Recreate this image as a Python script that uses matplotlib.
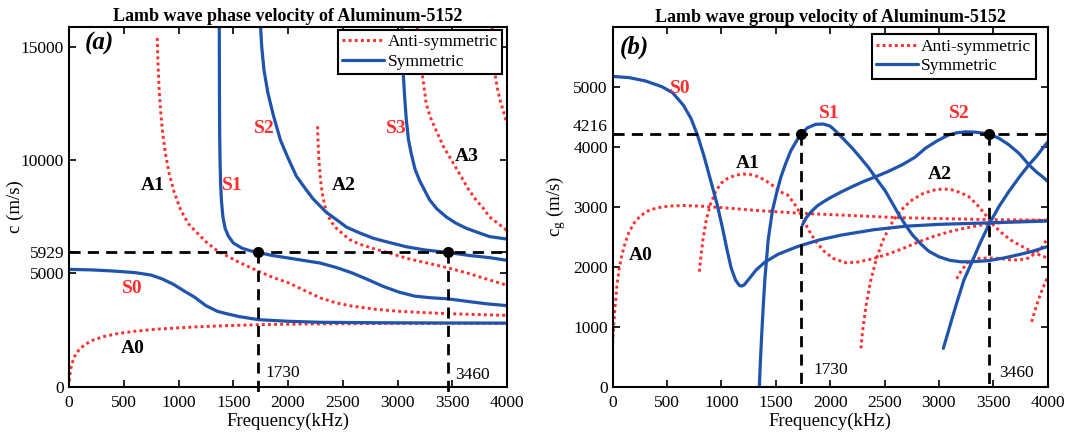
import matplotlib
matplotlib.use("Agg")
import matplotlib.pyplot as plt
from matplotlib.lines import Line2D
import matplotlib.transforms as mtransforms

plt.rcParams["font.family"] = ["Liberation Serif", "DejaVu Serif"]
plt.rcParams["mathtext.fontset"] = "custom"
plt.rcParams["mathtext.rm"] = "Liberation Serif"
plt.rcParams["mathtext.it"] = "Liberation Serif:italic"

# ---- phase velocity (panel a), frequency in kHz, velocity in m/s ----
pA0_f = [2, 10, 25, 50, 90, 140, 220, 320, 450, 600, 800, 1000, 1148, 1400, 1730, 2200, 2800, 3400, 4000]
pA0_c = [250, 650, 1000, 1330, 1620, 1850, 2060, 2220, 2350, 2450, 2540, 2600, 2640, 2690, 2739, 2770, 2790, 2798, 2800]

pS0_f = [0, 200, 400, 600, 750, 850, 950, 1050, 1148, 1250, 1354, 1434, 1550, 1730, 2000, 2295, 2800, 3300, 3816, 4000]
pS0_c = [5180, 5160, 5110, 5040, 4930, 4760, 4530, 4230, 3950, 3580, 3330, 3230, 3100, 2960, 2890, 2845, 2825, 2815, 2810, 2808]

pA1_f = [806, 812, 822, 836, 855, 880, 915, 960, 1020, 1090, 1148, 1250, 1354, 1434, 1550, 1730, 1850, 2008,
         2150, 2295, 2440, 2582, 2800, 3012, 3250, 3460, 3700, 4000]
pA1_c = [15400, 14300, 13200, 12200, 11200, 10300, 9400, 8600, 7800, 7200, 6900, 6400, 6000, 5800, 5500, 5100,
         4850, 4580, 4250, 3920, 3700, 3560, 3420, 3330, 3270, 3225, 3190, 3150]

pS1_f = [1372, 1373, 1374, 1376, 1379, 1384, 1392, 1405, 1425, 1455, 1500, 1578, 1650, 1730, 1850, 2008, 2150,
         2295, 2450, 2582, 2720, 2869, 3012, 3156, 3300, 3460, 3650, 3816, 4000]
pS1_c = [15900, 14000, 12500, 11000, 10000, 9000, 8200, 7500, 7000, 6650, 6350, 6120, 6010, 5929, 5800, 5680,
         5570, 5460, 5250, 5030, 4750, 4430, 4180, 4000, 3930, 3880, 3760, 3660, 3580]

pS2_f = [1749, 1760, 1780, 1815, 1865, 1930, 2000, 2076, 2150, 2228, 2350, 2450, 2533, 2650, 2776, 2900, 3080,
         3250, 3460, 3650, 3840, 4000]
pS2_c = [15900, 15000, 14000, 13000, 12000, 10900, 10100, 9300, 8800, 8300, 7700, 7350, 7050, 6800, 6560, 6400,
         6180, 6040, 5929, 5800, 5700, 5580]

pA2_f = [2270, 2274, 2282, 2295, 2312, 2335, 2365, 2400, 2441, 2500, 2563, 2650, 2780, 2926, 3100, 3300, 3460,
         3650, 3816, 4000]
pA2_c = [11500, 10800, 10000, 9200, 8550, 8000, 7550, 7250, 7000, 6750, 6500, 6300, 6100, 5900, 5650, 5430,
         5250, 5000, 4750, 4480]

pS3_f = [3040, 3045, 3050, 3065, 3080, 3100, 3125, 3160, 3202, 3250, 3293, 3360, 3445, 3530, 3627, 3740, 3840, 4000]
pS3_c = [15900, 15000, 14000, 12800, 11800, 10900, 10300, 9600, 9100, 8650, 8250, 7850, 7500, 7230, 7000, 6800,
         6630, 6520]

pA3_f = [3179, 3195, 3215, 3240, 3262, 3300, 3354, 3420, 3475, 3530, 3582, 3650, 3718, 3780, 3840, 3920, 4000]
pA3_c = [15900, 15000, 14200, 13300, 12500, 11900, 11300, 10600, 10150, 9700, 9270, 8700, 8240, 7900, 7500,
         7200, 6900]

pA4_f = [3865, 3880, 3894, 3915, 3940, 3970, 4000]
pA4_c = [15900, 14500, 13700, 13100, 12600, 12100, 11600]

# ---- group velocity (panel b) ----
gA0_f = [0, 10, 25, 40, 60, 85, 115, 150, 200, 260, 340, 420, 520, 650, 800, 1000, 1300, 1730, 2100, 2660, 3460, 4000]
gA0_c = [720, 1050, 1400, 1700, 1980, 2200, 2400, 2580, 2740, 2860, 2950, 2990, 3015, 3025, 3015, 2990, 2945,
         2895, 2865, 2820, 2790, 2780]

gS0_f = [0, 150, 300, 450, 550, 650, 720, 780, 840, 900, 960, 1010, 1050, 1090, 1130, 1165, 1185, 1210, 1250,
         1320, 1400, 1520, 1700, 1900, 2100, 2400, 2700, 3000, 3460, 4000]
gS0_c = [5180, 5160, 5105, 5010, 4910, 4700, 4480, 4200, 3850, 3450, 3050, 2650, 2300, 1980, 1780, 1690, 1680,
         1700, 1790, 1950, 2080, 2210, 2340, 2450, 2530, 2620, 2680, 2710, 2735, 2765]

gA1_f = [797, 810, 830, 860, 900, 950, 1000, 1060, 1130, 1200, 1260, 1330, 1400, 1470, 1546, 1610, 1669, 1730,
         1800, 1870, 1945, 2030, 2142, 2250, 2380, 2510, 2660, 2816, 2970, 3123, 3300, 3460, 3700, 4000]
gA1_c = [1920, 2150, 2450, 2780, 3050, 3270, 3400, 3480, 3530, 3550, 3545, 3510, 3450, 3360, 3250, 3200, 3060,
         2880, 2620, 2420, 2260, 2140, 2070, 2080, 2130, 2200, 2300, 2420, 2520, 2600, 2670, 2720, 2760, 2780]

gS1_f = [1349, 1358, 1370, 1385, 1400, 1430, 1469, 1510, 1546, 1590, 1638, 1690, 1730, 1790, 1866, 1940, 2000,
         2050, 2120, 2203, 2280, 2357, 2430, 2510, 2570, 2632, 2700, 2755, 2830, 2908, 3000, 3100, 3200, 3300,
         3460, 3600, 3736, 3850, 4000]
gS1_c = [0, 400, 850, 1350, 1800, 2450, 2938, 3250, 3494, 3720, 3938, 4100, 4216, 4320, 4380, 4385, 4350, 4270,
         4140, 3983, 3820, 3649, 3460, 3260, 3070, 2871, 2680, 2538, 2390, 2260, 2170, 2110, 2085, 2085, 2105,
         2150, 2205, 2255, 2340]

gS2_f = [1745, 1780, 1830, 1883, 1950, 2006, 2100, 2203, 2300, 2403, 2530, 2663, 2780, 2878, 2980, 3092, 3170,
         3245, 3330, 3400, 3460, 3550, 3644, 3740, 3828, 3900, 3950, 4000]
gS2_c = [2700, 2820, 2930, 3020, 3100, 3160, 3250, 3340, 3420, 3494, 3590, 3705, 3830, 3983, 4100, 4205, 4240,
         4255, 4250, 4235, 4216, 4150, 4038, 3890, 3705, 3580, 3510, 3430]

gA2_f = [2283, 2300, 2330, 2370, 2420, 2480, 2540, 2602, 2680, 2755, 2860, 2970, 3050, 3123, 3200, 3276, 3350,
         3429, 3500, 3583, 3660, 3736, 3850, 3950, 4000]
gA2_c = [640, 950, 1350, 1750, 2100, 2420, 2650, 2830, 3000, 3120, 3230, 3290, 3300, 3285, 3240, 3170, 3040,
         2870, 2700, 2560, 2450, 2370, 2260, 2180, 2150]

gS3_f = [3041, 3080, 3120, 3169, 3230, 3307, 3380, 3460, 3550, 3644, 3740, 3828, 3900, 3950, 4000]
gS3_c = [640, 880, 1130, 1427, 1780, 2094, 2400, 2705, 3000, 3260, 3500, 3705, 3850, 3970, 4083]

gA3_f = [3163, 3210, 3276, 3350, 3460, 3560, 3644, 3740, 3828, 3900, 3950, 4000]
gA3_c = [1800, 1950, 2094, 2140, 2150, 2140, 2120, 2115, 2150, 2250, 2330, 2480]

gA4_f = [3853, 3880, 3914, 3950, 4000]
gA4_c = [1083, 1250, 1444, 1620, 1833]

# marked points
f_mark = [1730, 3460]
c_phase_mark = 5929
c_group_mark = 4216

BLUE = "#2054ac"
RED = "#ff2e2e"
SYM = dict(color=BLUE, lw=2.3, solid_capstyle="round")
ANTI = dict(color=RED, lw=2.1, linestyle=(0, (1, 1.1)))
DASH = dict(color="black", lw=2.0, linestyle=(0, (4, 2.6)))


def style_axes(ax):
    ax.tick_params(direction="in", top=True, right=True, length=5, width=1.2, labelsize=12.5)
    ax.tick_params(axis="x", pad=6)
    for sp in ax.spines.values():
        sp.set_linewidth(1.5)
    ax.set_xlim(0, 4000)
    ax.set_xticks(range(0, 4001, 500))
    ax.set_xlabel("Frequency(kHz)", fontsize=13.5, labelpad=1)


def add_legend(ax, anchor):
    handles = [Line2D([], [], **ANTI), Line2D([], [], **SYM)]
    leg = ax.legend(handles, ["Anti-symmetric", "Symmetric"], loc="upper right", bbox_to_anchor=anchor,
                    fontsize=12.5, fancybox=False, framealpha=1, edgecolor="black", borderaxespad=0,
                    handlelength=2.4, handletextpad=0.2, borderpad=0.25, labelspacing=0.2)
    leg.get_frame().set_linewidth(1.5)
    leg.set_zorder(10)


def label(ax, x, y, s, color="black"):
    ax.text(x, y, s, color=color, fontsize=14, fontweight="bold", ha="center", va="center")


fig = plt.figure(figsize=(10.89, 4.43), dpi=100)

# ---------------- (a) phase velocity ----------------
ax1 = fig.add_axes([0.0634, 0.1271, 0.4022, 0.8126])
for f, c in [(pA0_f, pA0_c), (pA1_f, pA1_c), (pA2_f, pA2_c), (pA3_f, pA3_c), (pA4_f, pA4_c)]:
    ax1.plot(f, c, **ANTI)
for f, c in [(pS0_f, pS0_c), (pS1_f, pS1_c), (pS2_f, pS2_c), (pS3_f, pS3_c)]:
    ax1.plot(f, c, **SYM)

ax1.plot([0, 4000], [c_phase_mark, c_phase_mark], **DASH)
for fm in f_mark:
    ax1.plot([fm, fm], [c_phase_mark, -250], clip_on=False, **DASH)
ax1.plot(f_mark, [c_phase_mark] * 2, "o", color="black", ms=7, zorder=5)

ax1.set_ylim(0, 15900)
ax1.set_yticks([0, 5000, c_phase_mark, 10000, 15000])
ax1.set_ylabel("c (m/s)", fontsize=13.5, labelpad=-2)
ax1.set_title("Lamb wave phase velocity of Aluminum-5152", fontsize=13, fontweight="bold", pad=4)
style_axes(ax1)

ax1.text(274, 15150, "(a)", fontsize=18, fontweight="bold", fontstyle="italic", ha="center", va="center")
label(ax1, 760, 8900, "A1")
label(ax1, 1490, 8900, "S1", RED)
label(ax1, 1780, 11400, "S2", RED)
label(ax1, 2510, 8900, "A2")
label(ax1, 2987, 11400, "S3", RED)
label(ax1, 3635, 10150, "A3")
label(ax1, 578, 4340, "S0", RED)
label(ax1, 578, 1690, "A0")
ax1.text(1790, 590, "1730", fontsize=12.5, ha="left", va="center")
ax1.text(3530, 520, "3460", fontsize=12.5, ha="left", va="center")
add_legend(ax1, (1 - 5 / 438, 1 - 3 / 360))

# ---------------- (b) group velocity ----------------
ax2 = fig.add_axes([0.5626, 0.1271, 0.3994, 0.8113])
for f, c in [(gA0_f, gA0_c), (gA1_f, gA1_c), (gA2_f, gA2_c), (gA3_f, gA3_c), (gA4_f, gA4_c)]:
    ax2.plot(f, c, **ANTI)
for f, c in [(gS0_f, gS0_c), (gS1_f, gS1_c), (gS2_f, gS2_c), (gS3_f, gS3_c)]:
    ax2.plot(f, c, **SYM)

ax2.plot([0, 4000], [c_group_mark, c_group_mark], **DASH)
for fm in f_mark:
    ax2.plot([fm, fm], [c_group_mark, 0], **DASH)
ax2.plot(f_mark, [c_group_mark] * 2, "o", color="black", ms=7, zorder=5)

ax2.set_ylim(0, 6000)
ax2.set_yticks([0, 1000, 2000, 3000, 4000, c_group_mark, 5000])
ax2.set_yticklabels(["0", "1000", "2000", "3000", "4000", "", "5000"])
trans = mtransforms.blended_transform_factory(ax2.transAxes, ax2.transData)
ax2.text(-0.013, 4330, "4216", transform=trans, fontsize=12.5, ha="right", va="center")
ax2.set_ylabel(r"c$_\mathrm{g}$ (m/s)", fontsize=13.5, labelpad=4)
ax2.set_title("Lamb wave group velocity of Aluminum-5152", fontsize=13, fontweight="bold", pad=4)
style_axes(ax2)

ax2.text(200, 5660, "(b)", fontsize=18, fontweight="bold", fontstyle="italic", ha="center", va="center")
label(ax2, 620, 4970, "S0", RED)
label(ax2, 1992, 4560, "S1", RED)
label(ax2, 3188, 4560, "S2", RED)
label(ax2, 1238, 3730, "A1")
label(ax2, 3004, 3545, "A2")
label(ax2, 261, 2195, "A0")
ax2.text(1845, 280, "1730", fontsize=12.5, ha="left", va="center")
ax2.text(3552, 225, "3460", fontsize=12.5, ha="left", va="center")
add_legend(ax2, (1 - 12 / 435, 1 - 7 / 359))

fig.savefig("out.png", dpi=100)
